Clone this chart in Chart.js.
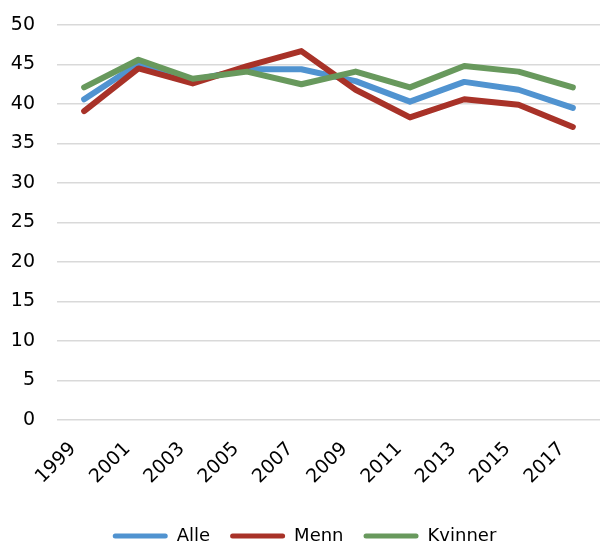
<!DOCTYPE html>
<html>
<head>
<meta charset="utf-8">
<script src="https://cdn.jsdelivr.net/npm/chart.js@4.4.1/dist/chart.umd.min.js"></script>
<style>
  html, body { margin: 0; padding: 0; background: #fff; }
  #wrap { width: 600px; height: 547px; }
</style>
</head>
<body>
<div id="wrap"><canvas id="chart"></canvas></div>
<script>
// years on the x axis
var years = ['1999', '2001', '2003', '2005', '2007', '2009', '2011', '2013', '2015', '2017'];
// values
var alle    = [40.6, 45.1, 43.0, 44.4, 44.4, 42.9, 40.3, 42.8, 41.8, 39.5];
var menn    = [39.1, 44.5, 42.6, 44.8, 46.7, 41.8, 38.3, 40.6, 39.9, 37.1];
var kvinner = [42.1, 45.6, 43.2, 44.1, 42.5, 44.1, 42.1, 44.8, 44.1, 42.1];
var yTicks  = [0, 5, 10, 15, 20, 25, 30, 35, 40, 45, 50];

var font = 'DejaVu Sans';

function series(label, values, color, order) {
    return {
        label: label,
        data: values,
        borderColor: color,
        backgroundColor: color,
        borderWidth: 6,
        borderCapStyle: 'round',
        borderJoinStyle: 'round',
        pointRadius: 0,
        tension: 0,
        order: order
    };
}

var ctx = document.getElementById('chart').getContext('2d');
var chart = new Chart(ctx, {
    type: 'line',
    data: {
        labels: years,
        datasets: [
            // green drawn on top, like the original
            series('Alle', alle, 'rgb(80,147,208)', 2),
            series('Menn', menn, 'rgb(168,50,40)', 1),
            series('Kvinner', kvinner, 'rgb(104,153,93)', 0)
        ]
    },
    options: {
        responsive: true,
        maintainAspectRatio: false,
        animation: false,
        layout: { padding: { left: 9, right: 0, top: 25, bottom: -8 } },
        plugins: {
            tooltip: { enabled: false },
            legend: {
                position: 'bottom',
                labels: {
                    font: { family: font, size: 18 },
                    color: '#000',
                    boxWidth: 55,
                    boxHeight: 5,
                    useBorderRadius: true,
                    borderRadius: 2.5,
                    padding: 20,
                    generateLabels: function (c) {
                        var items = Chart.defaults.plugins.legend.labels.generateLabels(c);
                        items.forEach(function (it) { it.lineWidth = 0; });
                        return items;
                    },
                    sort: function (a, b) { return a.datasetIndex - b.datasetIndex; }
                }
            }
        },
        scales: {
            x: {
                offset: true,
                grid: { display: false },
                border: { display: false },
                ticks: {
                    font: { family: font, size: 19 },
                    color: '#000',
                    minRotation: 45,
                    maxRotation: 45,
                    autoSkip: false,
                    padding: 10,
                    labelOffset: -11
                },
                afterFit: function (axis) {
                    axis.paddingLeft = 0;
                    axis.paddingRight = 0;
                    axis.height = 87;
                }
            },
            y: {
                min: 0,
                max: 50,
                afterBuildTicks: function (axis) {
                    axis.ticks = yTicks.map(function (v) { return { value: v }; });
                },
                grid: { color: '#d9d9d9', lineWidth: 1.5, drawTicks: false },
                border: { display: false },
                ticks: {
                    font: { family: font, size: 19 },
                    color: '#000',
                    padding: 22
                },
                afterFit: function (axis) {
                    axis.width = 48;
                    axis.paddingTop = 0;
                    axis.paddingBottom = 0;
                }
            }
        }
    }
});
</script>
</body>
</html>
